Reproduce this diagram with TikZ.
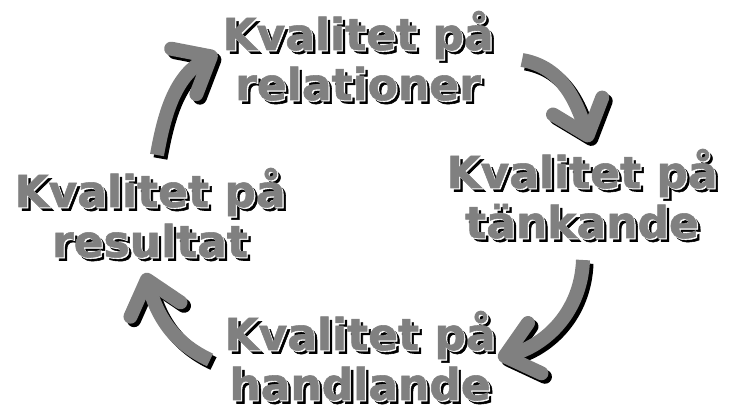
\documentclass[tikz,border=0pt]{standalone}
\usepackage{fontspec}
\setmainfont{DejaVu Sans}[BoldFeatures={FakeBold=1.2}]
\usepackage{xcolor}
\usetikzlibrary{arrows.meta}
\definecolor{grau}{HTML}{808080}

\begin{document}
\begin{tikzpicture}[x=1pt, y=1pt,
  etikett/.style={align=center, anchor=base, inner sep=0pt,
                  font=\fontsize{44}{50}\selectfont\bfseries},
  skugga/.style={transform canvas={shift={(3.5pt,-3.5pt)}}},
  glans/.style={transform canvas={shift={(1.2pt,-1.2pt)}}},
  pil/.style={line width=14pt,
              -{Straight Barb[length=31pt, width=52pt, round]}},
  pilskugga/.style={pil, black, skugga},
  pilyta/.style={pil, grau},
]
\useasboundingbox (0,0) rectangle (729,410);

% etiketter: svart skugga, vit kant, grå text överst
\foreach \namn/\x/\y/\txt in {rel/358/310/{Kvalitet på\\relationer},
                              tank/582/172/{Kvalitet på\\tänkande},
                              hand/360/10/{Kvalitet på\\handlande},
                              res/150/153/{Kvalitet på\\resultat}} {
  \node[etikett, skugga, text=black] (\namn-s) at (\x,\y) {\txt};
  \node[etikett, glans, text=white] (\namn-g) at (\x,\y) {\txt};
  \node[etikett, text=grau] (\namn) at (\x,\y) {\txt};
}

% pilarnas ändar
\coordinate (res-ut)  at (157,255);
\coordinate (rel-in)  at (217,357);
\coordinate (rel-ut)  at (522,350);
\coordinate (tank-in) at (590,268);
\coordinate (tank-ut) at (583,150);
\coordinate (hand-in) at (498,52);
\coordinate (hand-ut) at (210,50);
\coordinate (res-in)  at (145,137);

% kretsloppet, skugga först
\foreach \lager in {pilskugga, pilyta} {
  \draw[\lager] (res-ut) to[out=80, in=209] (rel-in);
  \draw[\lager] (rel-ut) to[out=-10, in=109] (tank-in);
  \draw[\lager] (tank-ut) to[out=-92, in=15] (hand-in);
  \draw[\lager] (hand-ut) to[out=155, in=286] (res-in);
}
\end{tikzpicture}
\end{document}
